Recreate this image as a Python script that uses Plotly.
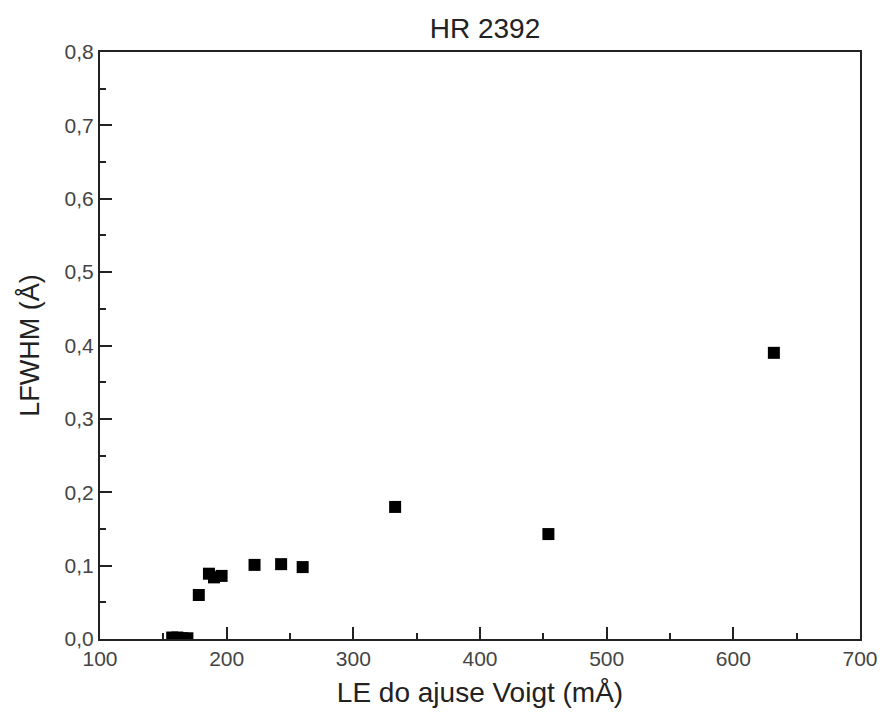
import plotly.graph_objects as go

# Data
le_voigt = [157, 161, 165, 169, 178, 186, 190, 196, 222, 243, 260, 333, 454, 632]
lfwhm = [0.002, 0.002, 0.001, 0.001, 0.060, 0.089, 0.084, 0.086, 0.101, 0.102, 0.098, 0.180, 0.143, 0.390]

x_ticks = [100, 200, 300, 400, 500, 600, 700]
y_ticks = [0.0, 0.1, 0.2, 0.3, 0.4, 0.5, 0.6, 0.7, 0.8]

fig = go.Figure()
fig.add_trace(go.Scatter(
    x=le_voigt, y=lfwhm, mode="markers",
    marker=dict(symbol="square", size=12, color="black", line=dict(width=0)),
    showlegend=False,
))

font_family = "Liberation Sans, Arial, sans-serif"
fig.update_layout(
    width=882, height=718,
    margin=dict(l=100, r=22, t=52, b=79),
    paper_bgcolor="white", plot_bgcolor="white",
    separators=",.",
    font=dict(family=font_family, color="#333"),
    title=dict(text="HR 2392", x=485 / 882, xanchor="center", y=1 - 28 / 718, yanchor="middle",
               font=dict(size=28, color="#222", family=font_family)),
)
fig.update_xaxes(
    range=[100, 700], tickvals=x_ticks, ticktext=[str(v) for v in x_ticks],
    ticks="inside", ticklen=12, tickwidth=2, tickcolor="#222",
    minor=dict(ticks="inside", ticklen=6, tickwidth=2, tickcolor="#222", dtick=50, tick0=100, showgrid=False),
    showline=True, linewidth=2, linecolor="#222", mirror=True,
    showgrid=False, zeroline=False, automargin=False,
    tickfont=dict(size=21, color="#444"),
    title=dict(text="LE do ajuse Voigt (mÅ)", font=dict(size=28, color="#222"), standoff=13),
)
fig.update_yaxes(
    range=[0, 0.8], tickvals=y_ticks, tickformat=".1f",
    ticks="inside", ticklen=12, tickwidth=2, tickcolor="#222",
    minor=dict(ticks="inside", ticklen=6, tickwidth=2, tickcolor="#222", dtick=0.05, tick0=0, showgrid=False),
    showline=True, linewidth=2, linecolor="#222", mirror=True,
    showgrid=False, zeroline=False, automargin=False,
    tickfont=dict(size=21, color="#444"),
    title=dict(text="LFWHM (Å)", font=dict(size=27, color="#222"), standoff=17),
)

fig.write_html("out.html")
